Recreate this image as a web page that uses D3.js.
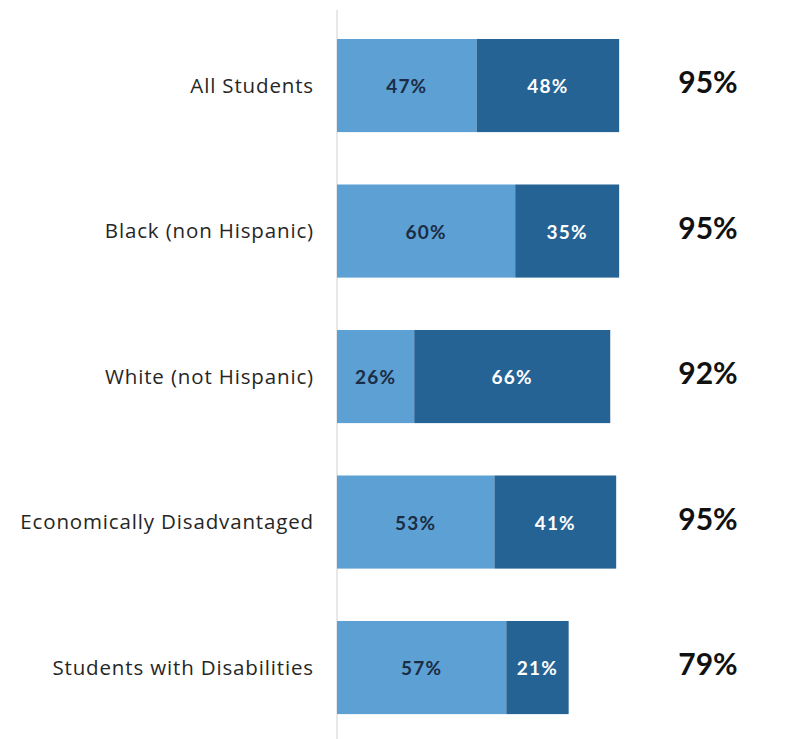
<!DOCTYPE html>
<html>
<head>
<meta charset="utf-8">
<script src="https://cdn.jsdelivr.net/npm/d3@7"></script>
<style>
  html, body { margin: 0; padding: 0; background: #ffffff; }
  svg { display: block; }
</style>
</head>
<body>
<svg id="chart" width="805" height="739"></svg>
<script>
// Student groups and their two stacked shares (percent)
const categories = [
  "All Students",
  "Black (non Hispanic)",
  "White (not Hispanic)",
  "Economically Disadvantaged",
  "Students with Disabilities"
];
const firstShare = [47, 60, 26, 53, 57];
const secondShare = [48, 35, 66, 41, 21];
const totals = ["95%", "95%", "92%", "95%", "79%"];

const svg = d3.select("#chart");
const W = 805, H = 739;

const x = d3.scaleLinear().domain([0, 100]).range([337, 634]);
const y = d3.scaleBand()
  .domain(categories)
  .range([12.8, 740.3])
  .paddingInner(0.36)
  .paddingOuter(0.18);

const colors = ["#5da0d4", "#256394"];
const textColors = ["#1b2c45", "#ffffff"];

const rows = categories.map((c, i) => ({
  cat: c,
  segs: [
    { v: firstShare[i], start: 0, k: 0 },
    { v: secondShare[i], start: firstShare[i], k: 1 }
  ],
  total: totals[i]
}));

// vertical baseline
svg.append("line")
  .attr("x1", x(0)).attr("x2", x(0))
  .attr("y1", 10).attr("y2", H)
  .attr("stroke", "#d9d9d9").attr("stroke-width", 1.2);

const g = svg.selectAll("g.row").data(rows).join("g").attr("class", "row");

g.selectAll("rect").data(d => d.segs.map(s => ({ ...s, cat: d.cat })))
  .join("rect")
  .attr("x", s => x(s.start))
  .attr("y", s => y(s.cat))
  .attr("width", s => x(s.start + s.v) - x(s.start))
  .attr("height", y.bandwidth())
  .attr("fill", s => colors[s.k]);

g.selectAll("text.seg").data(d => d.segs.map(s => ({ ...s, cat: d.cat })))
  .join("text")
  .attr("class", "seg")
  .attr("x", s => (x(s.start) + x(s.start + s.v)) / 2)
  .attr("y", s => y(s.cat) + y.bandwidth() / 2 + 1)
  .attr("dy", "0.36em")
  .attr("text-anchor", "middle")
  .attr("font-family", "Lato, 'Open Sans', sans-serif")
  .attr("font-weight", "bold")
  .attr("font-size", 19)
  .attr("letter-spacing", 1.2)
  .attr("fill", s => textColors[s.k])
  .text(s => s.v + "%");

// category labels
g.append("text")
  .attr("x", 314)
  .attr("y", d => y(d.cat) + y.bandwidth() / 2)
  .attr("dy", "0.36em")
  .attr("text-anchor", "end")
  .attr("font-family", "'Open Sans', 'DejaVu Sans', sans-serif")
  .attr("font-size", 20.5)
  .attr("letter-spacing", 0.85)
  .attr("fill", "#262626")
  .text(d => d.cat);

// totals
g.append("text")
  .attr("x", 708)
  .attr("y", d => y(d.cat) + y.bandwidth() / 2 - 3)
  .attr("dy", "0.36em")
  .attr("text-anchor", "middle")
  .attr("font-family", "Lato, 'Open Sans', sans-serif")
  .attr("font-weight", "bold")
  .attr("font-size", 30)
  .attr("fill", "#111111")
  .text(d => d.total);
</script>
</body>
</html>
